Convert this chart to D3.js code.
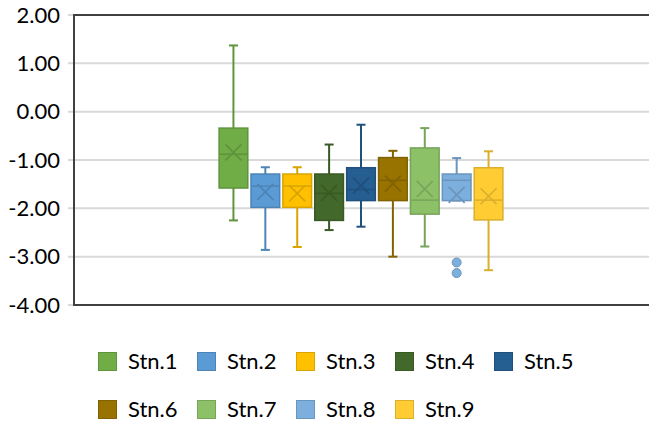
<!DOCTYPE html>
<html>
<head>
<meta charset="utf-8">
<script src="https://cdn.jsdelivr.net/npm/d3@7"></script>
<style>
  body { margin: 0; background: #fff; }
  svg { display: block; font-family: Lato, 'Open Sans', sans-serif; }
</style>
</head>
<body>
<div id="chart"></div>
<script>
// Box-and-whisker summary per station
const stations = ['Stn.1', 'Stn.2', 'Stn.3', 'Stn.4', 'Stn.5', 'Stn.6', 'Stn.7', 'Stn.8', 'Stn.9']
const whiskerHigh = [1.37, -1.15, -1.15, -0.68, -0.27, -0.81, -0.34, -0.96, -0.82]
const q3 = [-0.34, -1.29, -1.29, -1.29, -1.16, -0.95, -0.75, -1.29, -1.16]
const median = [-0.88, -1.54, -1.54, -1.69, -1.61, -1.42, -1.83, -1.42, -1.83]
const mean = [-0.84, -1.66, -1.69, -1.68, -1.53, -1.49, -1.60, -1.72, -1.75]
const q1 = [-1.58, -1.98, -1.98, -2.25, -1.84, -1.84, -2.12, -1.84, -2.24]
const whiskerLow = [-2.25, -2.86, -2.80, -2.45, -2.38, -3.00, -2.79, -1.84, -3.28]
const outliers = [[], [], [], [], [], [], [], [-3.12, -3.34], []]
const colors = ['#70ad47', '#5b9bd5', '#ffc000', '#43682b', '#255e91', '#997300', '#8cc168', '#7cafdd', '#ffcd33']
const yTicks = [2, 1, 0, -1, -2, -3, -4]

const width = 649
const height = 425
const plot = { left: 74, right: 650, top: 15, bottom: 305 }

const svg = d3.select('#chart')
    .append('svg')
    .attr('width', width)
    .attr('height', height)

const y = d3.scaleLinear()
    .domain([-4, 2])
    .range([plot.bottom, plot.top])

// one category, nine series side by side
const category = d3.scaleBand()
    .domain(['all'])
    .range([plot.left, plot.right - 2])
    .paddingOuter(0.5)
const series = d3.scaleBand()
    .domain(stations)
    .range([0, category.bandwidth()])
    .paddingInner(0.1)
    .paddingOuter(0.05)

// gridlines
svg.append('g')
    .selectAll('line')
    .data(yTicks)
    .join('line')
    .attr('x1', plot.left - 6)
    .attr('x2', plot.right)
    .attr('y1', d => y(d))
    .attr('y2', d => y(d))
    .style('stroke', '#d9d9d9')
    .style('stroke-width', 2)

// y axis labels
const yAxis = d3.axisLeft(y)
    .tickValues(yTicks)
    .tickFormat(d3.format('.2f'))
    .tickSize(0)
    .tickPadding(14)
svg.append('g')
    .attr('transform', `translate(${plot.left},0)`)
    .call(yAxis)
    .call(g => g.select('.domain').remove())
    .selectAll('text')
    .style('font-family', 'Lato, sans-serif')
    .style('font-size', '22px')
    .style('fill', '#000')
    .text(d => d3.format('.2f')(d).replace('−', '-'))

// plot border
svg.append('rect')
    .attr('x', plot.left)
    .attr('y', plot.top)
    .attr('width', plot.right - plot.left)
    .attr('height', plot.bottom - plot.top)
    .style('fill', 'none')
    .style('stroke', '#404040')
    .style('stroke-width', 2)

const boxes = svg.append('g')
    .selectAll('g')
    .data(stations)
    .join('g')
    .attr('transform', d => `translate(${category('all') + series(d)},0)`)

const bw = series.bandwidth()
const cx = bw / 2
const dark = i => d3.color(colors[i]).darker(0.45).formatHex()

boxes.each(function (d, i) {
    const g = d3.select(this)
    const stroke = dark(i)

    // whiskers
    g.append('line')
        .attr('x1', cx).attr('x2', cx)
        .attr('y1', y(whiskerHigh[i])).attr('y2', y(q3[i]))
        .style('stroke', stroke).style('stroke-width', 2)
    g.append('line')
        .attr('x1', cx).attr('x2', cx)
        .attr('y1', y(q1[i])).attr('y2', y(whiskerLow[i]))
        .style('stroke', stroke).style('stroke-width', 2)
    ;[whiskerHigh[i], whiskerLow[i]].forEach(v => {
        g.append('line')
            .attr('x1', cx - 4.5).attr('x2', cx + 4.5)
            .attr('y1', y(v)).attr('y2', y(v))
            .style('stroke', stroke).style('stroke-width', 2)
    })

    // box
    g.append('rect')
        .attr('x', 0)
        .attr('y', y(q3[i]))
        .attr('width', bw)
        .attr('height', y(q1[i]) - y(q3[i]))
        .style('fill', colors[i])
        .style('stroke', stroke)
        .style('stroke-width', 1.5)

    // median
    g.append('line')
        .attr('x1', 0).attr('x2', bw)
        .attr('y1', y(median[i])).attr('y2', y(median[i]))
        .style('stroke', stroke).style('stroke-width', 1.5)

    // mean marker
    const my = y(mean[i])
    g.append('path')
        .attr('d', `M${cx - 8},${my - 8}L${cx + 8},${my + 8}M${cx - 8},${my + 8}L${cx + 8},${my - 8}`)
        .style('stroke', stroke).style('stroke-width', 1.75)

    // outliers
    g.selectAll('circle')
        .data(outliers[i])
        .join('circle')
        .attr('cx', cx)
        .attr('cy', v => y(v))
        .attr('r', 4.5)
        .style('fill', colors[i])
        .style('stroke', stroke)
        .style('stroke-width', 1)
})

// legend, two rows
const legend = svg.append('g')
    .selectAll('g')
    .data(stations)
    .join('g')
    .attr('transform', (d, i) => `translate(${98 + (i % 5) * 99},${352 + Math.floor(i / 5) * 48})`)

legend.append('rect')
    .attr('width', 18)
    .attr('height', 18)
    .attr('x', 0.5)
    .attr('y', 0.5)
    .style('fill', (d, i) => colors[i])
    .style('stroke', (d, i) => dark(i))
    .style('stroke-width', 1)

legend.append('text')
    .attr('x', 30)
    .attr('y', 17)
    .text(d => d)
    .style('font-size', '22px')
    .style('fill', '#000')
</script>
</body>
</html>
